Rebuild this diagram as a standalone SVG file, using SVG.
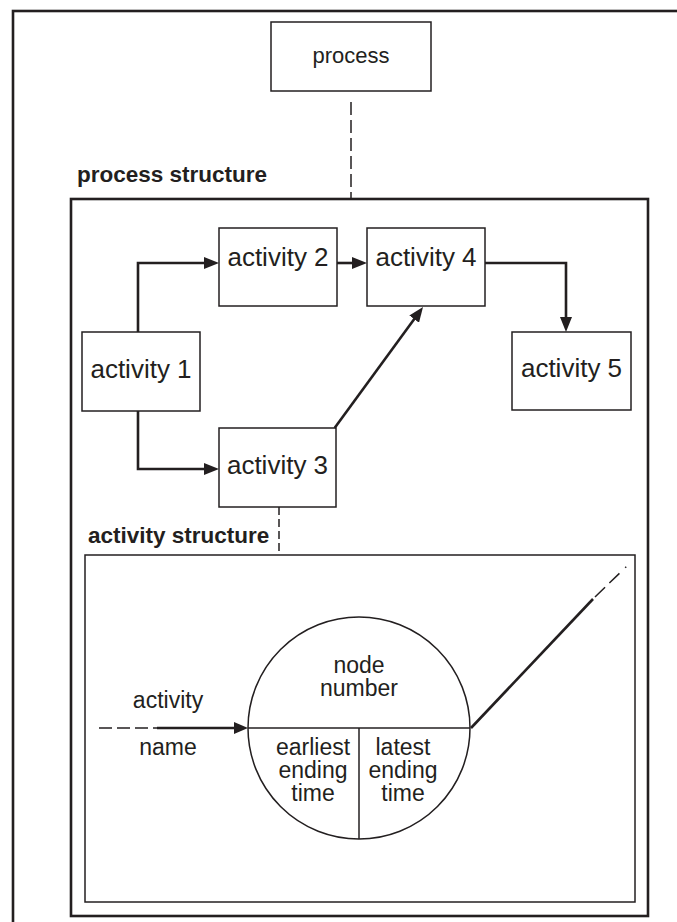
<svg xmlns="http://www.w3.org/2000/svg" width="677" height="922" viewBox="0 0 677 922">
  <style>
    .frame { fill: none; stroke: #231f20; stroke-width: 2.6; }
    .box { fill: #ffffff; stroke: #231f20; stroke-width: 1.5; }
    .thin { fill: none; stroke: #231f20; stroke-width: 1.5; }
    .flow { fill: none; stroke: #231f20; stroke-width: 2.6; }
    .dash { fill: none; stroke: #231f20; stroke-width: 1.5; stroke-dasharray: 13 5; }
    .lbl { font-family: "Liberation Sans", Arial, sans-serif; fill: #231f20; text-anchor: middle; }
    .act { font-size: 26px; }
    .proc { font-size: 22px; }
    .node { font-size: 23px; }
    .title { font-family: "Liberation Sans", Arial, sans-serif; font-weight: bold; font-size: 22.5px; fill: #231f20; }
  </style>
  <defs>
    <marker id="head" markerUnits="userSpaceOnUse" markerWidth="15" markerHeight="12" refX="7" refY="6" orient="auto">
      <path d="M0,0 L15,6 L0,12 z" fill="#231f20"/>
    </marker>
    <marker id="headSmall" markerUnits="userSpaceOnUse" markerWidth="14" markerHeight="12" refX="6" refY="6" orient="auto">
      <path d="M0,0 L14,6 L0,12 z" fill="#231f20"/>
    </marker>
  </defs>

  <!-- outer frame (runs past the right and bottom edges) -->
  <rect class="frame" x="13" y="11" width="700" height="950"/>

  <!-- top-level process -->
  <g id="process">
    <rect class="box" x="271" y="22" width="160" height="69"/>
    <text class="lbl proc" x="351" y="63">process</text>
  </g>

  <!-- process structure container -->
  <g id="process-structure">
    <text class="title" x="77" y="182">process structure</text>
    <rect class="frame" x="71" y="199" width="577" height="717"/>
  </g>

  <g id="activity1">
    <rect class="box" x="82" y="332" width="118" height="79"/>
    <text class="lbl act" x="141" y="378">activity 1</text>
  </g>
  <g id="activity2">
    <rect class="box" x="219" y="228" width="118" height="78"/>
    <text class="lbl act" x="278" y="266">activity 2</text>
  </g>
  <g id="activity3">
    <rect class="box" x="219" y="428" width="117" height="79"/>
    <text class="lbl act" x="277.5" y="474">activity 3</text>
  </g>
  <g id="activity4">
    <rect class="box" x="367" y="228" width="118" height="78"/>
    <text class="lbl act" x="426" y="266">activity 4</text>
  </g>
  <g id="activity5">
    <rect class="box" x="512" y="332" width="119" height="78"/>
    <text class="lbl act" x="571.5" y="377">activity 5</text>
  </g>

  <!-- activity structure container -->
  <g id="activity-structure">
    <text class="title" x="88" y="543">activity structure</text>
    <rect class="box" x="85" y="555" width="550" height="347" fill="none"/>
  </g>

  <!-- activity-on-node symbol -->
  <g id="node-symbol">
    <circle class="thin" cx="359" cy="728" r="111" fill="#ffffff"/>
    <line class="thin" x1="248" y1="728" x2="470" y2="728"/>
    <line class="thin" x1="359" y1="728" x2="359" y2="839"/>
    <text class="lbl node" x="359" y="673">node</text>
    <text class="lbl node" x="359" y="696">number</text>
    <text class="lbl node" x="313" y="755">earliest</text>
    <text class="lbl node" x="313" y="778">ending</text>
    <text class="lbl node" x="313" y="801">time</text>
    <text class="lbl node" x="403" y="755">latest</text>
    <text class="lbl node" x="403" y="778">ending</text>
    <text class="lbl node" x="403" y="801">time</text>
  </g>

  <g id="activity-label">
    <text class="lbl node" x="168" y="708">activity</text>
    <text class="lbl node" x="168" y="755">name</text>
  </g>

  <!-- connectors -->
  <g id="connectors">
    <line class="dash" x1="351" y1="102" x2="351" y2="199"/>
    <line class="thin" x1="279" y1="507" x2="279" y2="555" stroke-dasharray="8 4"/>
    <path class="flow" d="M138,332 V263 H211" marker-end="url(#head)"/>
    <path class="flow" d="M138,411 V469 H211" marker-end="url(#head)"/>
    <path class="flow" d="M337,263 H359" marker-end="url(#head)"/>
    <path class="flow" d="M485,263 H566 V324" marker-end="url(#head)"/>
    <path class="flow" d="M334.6,428 L418.3,313.5" marker-end="url(#head)"/>

    <!-- incoming activity arrow -->
    <line class="dash" x1="99" y1="728" x2="157" y2="728" stroke-dasharray="13 6"/>
    <line class="flow" x1="157" y1="728" x2="240" y2="728" stroke-width="3" marker-end="url(#headSmall)"/>

    <!-- outgoing activity line -->
    <line class="flow" x1="471" y1="728" x2="593" y2="599" stroke-width="3"/>
    <line class="thin" x1="595" y1="597" x2="627" y2="566" stroke-dasharray="14 6 14 8 1.5 20"/>
  </g>
</svg>
